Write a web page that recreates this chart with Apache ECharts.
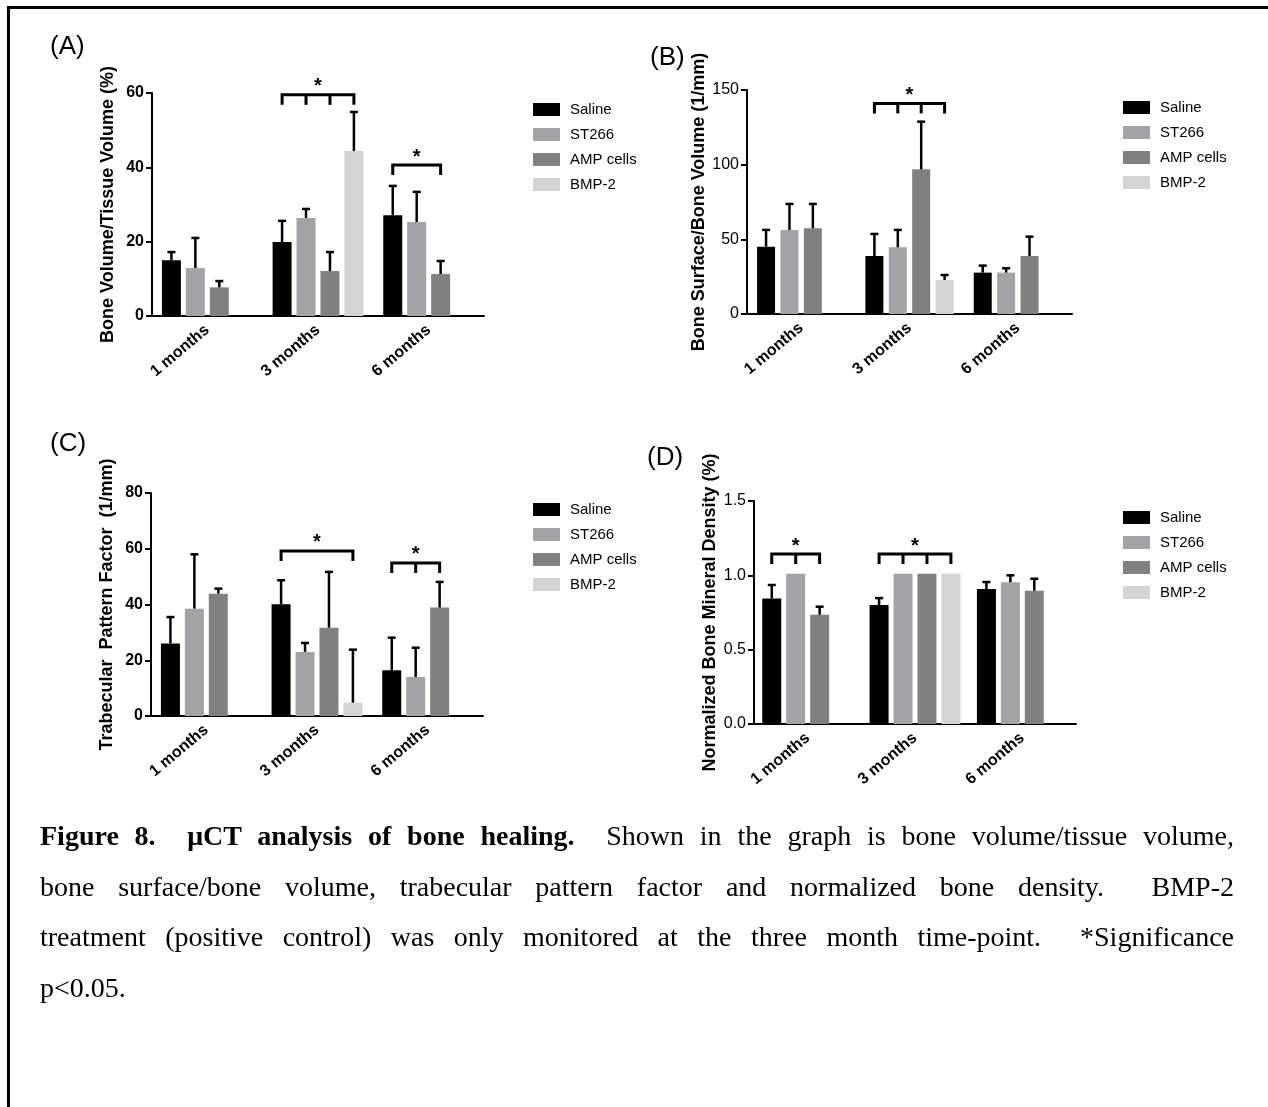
<!DOCTYPE html>
<html>
<head>
<meta charset="utf-8">
<script src="https://cdn.jsdelivr.net/npm/echarts@6/dist/echarts.min.js"></script>
<style>
  html, body { margin: 0; padding: 0; background: #fff; overflow: hidden; }
  #frame { position: absolute; left: 7px; top: 6px; width: 1300px; height: 1200px;
           border-top: 3px solid #000; border-left: 3px solid #000; }
  #chart { position: absolute; left: 0; top: 0; width: 1268px; height: 1107px; }
  #caption { position: absolute; left: 40px; top: 811px; width: 1194px;
             font-family: 'Liberation Serif', 'Times New Roman', serif; font-size: 28px;
             line-height: 50.5px; color: #000; }
  #caption div { text-align: justify; text-align-last: justify; white-space: nowrap; }
  #caption div.last { text-align-last: left; }
</style>
</head>
<body>
<div id="frame"></div>
<div id="chart"></div>
<div id="caption">
  <div><b>Figure 8.&nbsp; μCT analysis of bone healing.</b>&nbsp; Shown in the graph is bone volume/tissue volume,</div>
  <div>bone surface/bone volume, trabecular pattern factor and normalized bone density.&nbsp; BMP-2</div>
  <div>treatment (positive control) was only monitored at the three month time-point.&nbsp; *Significance</div>
  <div class="last">p&lt;0.05.</div>
</div>
<script>
  const months = ['1 months', '3 months', '6 months'];
  const groups = ['Saline', 'ST266', 'AMP cells', 'BMP-2'];
  const colors = ['#000000', '#a2a2a7', '#808080', '#d4d4d4'];

  // (A) bone volume / tissue volume (%), mean and SD
  const bvSaline = [15.0, 19.9, 27.1];
  const bvSalineSd = [2.2, 5.7, 7.9];
  const bvSt266 = [12.9, 26.4, 25.3];
  const bvSt266Sd = [8.1, 2.4, 8.1];
  const bvAmp = [7.7, 12.1, 11.3];
  const bvAmpSd = [1.7, 5.1, 3.5];
  const bvBmp = [null, 44.4, null];
  const bvBmpSd = [null, 10.5, null];

  // (B) bone surface / bone volume (1/mm)
  const bsSaline = [45.1, 38.8, 27.7];
  const bsSalineSd = [11.2, 14.8, 4.7];
  const bsSt266 = [56.3, 44.7, 27.7];
  const bsSt266Sd = [17.4, 11.6, 2.9];
  const bsAmp = [57.4, 96.9, 38.8];
  const bsAmpSd = [16.3, 31.9, 13.0];
  const bsBmp = [null, 22.8, null];
  const bsBmpSd = [null, 3.3, null];

  // (C) trabecular pattern factor (1/mm)
  const tpSaline = [26.0, 40.1, 16.4];
  const tpSalineSd = [9.5, 8.6, 11.7];
  const tpSt266 = [38.5, 23.0, 14.0];
  const tpSt266Sd = [19.5, 3.2, 10.5];
  const tpAmp = [43.9, 31.7, 38.9];
  const tpAmpSd = [1.8, 20.0, 9.2];
  const tpBmp = [null, 4.8, null];
  const tpBmpSd = [null, 19.0, null];

  // (D) normalized bone mineral density
  const bmdSaline = [0.845, 0.80, 0.908];
  const bmdSalineSd = [0.09, 0.047, 0.047];
  const bmdSt266 = [1.01, 1.01, 0.953];
  const bmdSt266Sd = [0, 0, 0.047];
  const bmdAmp = [0.735, 1.01, 0.897];
  const bmdAmpSd = [0.054, 0, 0.08];
  const bmdBmp = [null, 1.01, null];
  const bmdBmpSd = [null, 0, null];

  // significance brackets: month index, bars joined, height in axis units
  const sigA = [{cat: 1, bars: [0, 1, 2, 3], level: 59.5}, {cat: 2, bars: [0, 2], level: 40.6}];
  const sigB = [{cat: 1, bars: [0, 1, 2, 3], level: 141}];
  const sigC = [{cat: 1, bars: [0, 3], level: 59.2}, {cat: 2, bars: [0, 1, 2], level: 54.9}];
  const sigD = [{cat: 0, bars: [0, 1, 2], level: 1.143}, {cat: 1, bars: [0, 1, 2, 3], level: 1.143}];

  const font = "'Liberation Sans', Arial, sans-serif";

  const panels = [
    {
      label: '(A)', labelPos: [50, 34],
      grid: {left: 152, top: 93, width: 332, height: 223},
      legendPos: [533, 102],
      name: 'Bone Volume/Tissue Volume (%)', max: 60, interval: 20, boldTicks: true,
      barWidth: 19, gap: 0.26,
      mean: [bvSaline, bvSt266, bvAmp, bvBmp], sd: [bvSalineSd, bvSt266Sd, bvAmpSd, bvBmpSd],
      sig: sigA
    },
    {
      label: '(B)', labelPos: [650, 45],
      grid: {left: 747, top: 90, width: 325, height: 224},
      legendPos: [1123, 100],
      name: 'Bone Surface/Bone Volume (1/mm)', max: 150, interval: 50, boldTicks: false,
      barWidth: 18, gap: 0.3,
      mean: [bsSaline, bsSt266, bsAmp, bsBmp], sd: [bsSalineSd, bsSt266Sd, bsAmpSd, bsBmpSd],
      sig: sigB
    },
    {
      label: '(C)', labelPos: [50, 431],
      grid: {left: 151, top: 493, width: 332, height: 223},
      legendPos: [533, 502],
      name: 'Trabecular  Pattern Factor  (1/mm)', max: 80, interval: 20, boldTicks: true,
      barWidth: 19, gap: 0.26,
      mean: [tpSaline, tpSt266, tpAmp, tpBmp], sd: [tpSalineSd, tpSt266Sd, tpAmpSd, tpBmpSd],
      sig: sigC
    },
    {
      label: '(D)', labelPos: [647, 445],
      grid: {left: 754, top: 501, width: 322, height: 223},
      legendPos: [1123, 510],
      name: 'Normalized Bone Mineral Density (%)', max: 1.5, interval: 0.5, boldTicks: false,
      decimals: 1,
      barWidth: 19, gap: 0.26,
      mean: [bmdSaline, bmdSt266, bmdAmp, bmdBmp], sd: [bmdSalineSd, bmdSt266Sd, bmdAmpSd, bmdBmpSd],
      sig: sigD
    }
  ];

  // horizontal offset of bar k from its category centre
  function barOffset(p, k) {
    const pitch = p.barWidth * (1 + p.gap);
    return (k - (groups.length - 1) / 2) * pitch;
  }

  const option = {
    animation: false,
    textStyle: {fontFamily: font},
    title: [], grid: [], xAxis: [], yAxis: [], legend: [], series: []
  };

  panels.forEach((p, g) => {
    option.title.push({
      text: p.label, left: p.labelPos[0], top: p.labelPos[1], padding: 0,
      textStyle: {fontFamily: font, fontSize: 26, fontWeight: 'normal', color: '#000'}
    });
    option.grid.push(p.grid);
    option.xAxis.push({
      type: 'category', gridIndex: g, data: months,
      axisLine: {lineStyle: {color: '#000', width: 2}},
      axisTick: {alignWithLabel: true, length: 6, lineStyle: {color: '#000', width: 2}},
      axisLabel: {rotate: 40, margin: 12, color: '#000', fontWeight: 'bold', fontSize: 16, fontFamily: font}
    });
    option.yAxis.push({
      type: 'value', gridIndex: g, min: 0, max: p.max, interval: p.interval,
      name: p.name, nameLocation: 'middle', nameGap: 35,
      nameTextStyle: {color: '#000', fontWeight: 'bold', fontSize: 18, fontFamily: font},
      axisLine: {show: true, lineStyle: {color: '#000', width: 2}},
      axisTick: {show: true, length: 6, lineStyle: {color: '#000', width: 2}},
      splitLine: {show: false},
      axisLabel: {
        color: '#000', fontSize: 16, margin: 8, fontFamily: font,
        fontWeight: p.boldTicks ? 'bold' : 'normal',
        formatter: v => p.decimals ? v.toFixed(p.decimals) : String(v)
      }
    });
    option.legend.push({
      orient: 'vertical', left: p.legendPos[0], top: p.legendPos[1], padding: 0,
      data: groups, icon: 'rect', itemWidth: 27, itemHeight: 13, itemGap: 10,
      textStyle: {color: '#000', fontSize: 15, fontFamily: font, padding: [0, 0, 0, 5]}
    });

    groups.forEach((name, k) => {
      option.series.push({
        type: 'bar', name, xAxisIndex: g, yAxisIndex: g,
        data: p.mean[k], barWidth: p.barWidth, barGap: (p.gap * 100) + '%',
        itemStyle: {color: colors[k]}, emphasis: {disabled: true}
      });
    });

    groups.forEach((name, k) => {
      const data = [];
      p.mean[k].forEach((m, i) => {
        const sd = p.sd[k][i];
        if (m != null && sd) data.push([i, m, m + sd]);
      });
      option.series.push({
        type: 'custom', name: name + ' SD', xAxisIndex: g, yAxisIndex: g, z: 3,
        data,
        renderItem: (params, api) => {
          const base = api.coord([api.value(0), api.value(1)]);
          const top = api.coord([api.value(0), api.value(2)]);
          const x = base[0] + barOffset(p, k);
          const st = {stroke: '#000', lineWidth: 2.5};
          return {
            type: 'group', children: [
              {type: 'line', shape: {x1: x, y1: base[1], x2: x, y2: top[1]}, style: st},
              {type: 'line', shape: {x1: x - 4, y1: top[1], x2: x + 4, y2: top[1]}, style: st}
            ]
          };
        }
      });
    });

    option.series.push({
      type: 'custom', name: 'significance', xAxisIndex: g, yAxisIndex: g, z: 4, clip: false,
      data: p.sig.map((s, i) => [s.cat, s.level, i]),
      renderItem: (params, api) => {
        const s = p.sig[api.value(2)];
        const c = api.coord([s.cat, s.level]);
        const xs = s.bars.map(k => c[0] + barOffset(p, k));
        const y = c[1];
        const st = {stroke: '#000', lineWidth: 3, fill: null};
        const first = xs[0], last = xs[xs.length - 1];
        const children = [{
          type: 'polyline',
          shape: {points: [[first, y + 10], [first, y], [last, y], [last, y + 10]]},
          style: st
        }];
        xs.slice(1, -1).forEach(x => children.push({
          type: 'line', shape: {x1: x, y1: y, x2: x, y2: y + 10}, style: st
        }));
        children.push({
          type: 'text', x: (first + last) / 2, y: y + 2,
          style: {text: '*', font: 'bold 20px ' + font, fill: '#000',
                  align: 'center', verticalAlign: 'bottom', textAlign: 'center', textVerticalAlign: 'bottom'}
        });
        return {type: 'group', children};
      }
    });
  });

  const chart = echarts.init(document.getElementById('chart'));
  chart.setOption(option);
</script>
</body>
</html>
